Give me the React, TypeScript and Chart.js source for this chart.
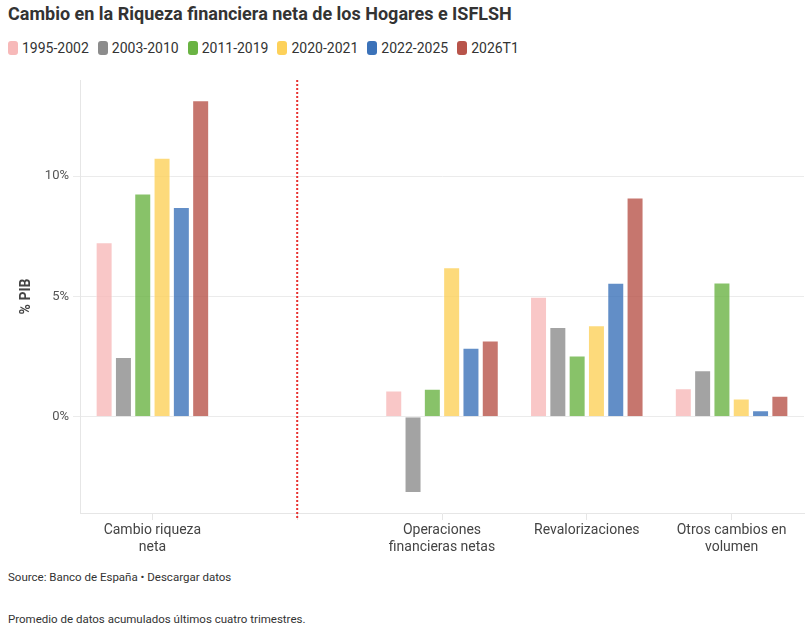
import React, { useEffect, useRef } from "react";
import { Chart, registerables } from "chart.js";

Chart.register(...registerables);

const TITLE = "Cambio en la Riqueza financiera neta de los Hogares e ISFLSH";
const SOURCE = "Source: Banco de España • Descargar datos";
const NOTE = "Promedio de datos acumulados últimos cuatro trimestres.";
const Y_TITLE = "% PIB";

const categories: (string | string[])[] = [
  ["Cambio riqueza", "neta"],
  "",
  ["Operaciones", "financieras netas"],
  "Revalorizaciones",
  ["Otros cambios en", "volumen"],
];

const seriesNames = ["1995-2002", "2003-2010", "2011-2019", "2020-2021", "2022-2025", "2026T1"];
const seriesColors = ["#f7b9b9", "#8c8c8c", "#6ab343", "#fdd15a", "#3b72b9", "#b8544a"];

const s1995_2002 = [7.26, null, 1.09, 4.99, 1.19];
const s2003_2010 = [2.49, null, -3.17, 3.73, 1.93];
const s2011_2019 = [9.28, null, 1.16, 2.55, 5.58];
const s2020_2021 = [10.77, null, 6.22, 3.81, 0.76];
const s2022_2025 = [8.72, null, 2.87, 5.57, 0.27];
const s2026T1 = [13.16, null, 3.17, 9.12, 0.87];

const seriesValues = [s1995_2002, s2003_2010, s2011_2019, s2020_2021, s2022_2025, s2026T1];

const yMin = -4;
const yMax = 14;
const yTicks = [0, 5, 10];
const dividerIndex = 1;

function hexToRgba(hex: string, a: number) {
  const n = parseInt(hex.slice(1), 16);
  return `rgba(${(n >> 16) & 255},${(n >> 8) & 255},${n & 255},${a})`;
}

const FONT = "Roboto, 'Noto Sans', sans-serif";

const dividerPlugin = {
  id: "divider",
  afterDatasetsDraw(chart: any) {
    const { ctx, chartArea, scales } = chart;
    const x = scales.x.getPixelForValue(dividerIndex);
    ctx.save();
    ctx.strokeStyle = "#e8312f";
    ctx.lineWidth = 2;
    ctx.setLineDash([2, 2]);
    ctx.beginPath();
    ctx.moveTo(x, chartArea.top);
    ctx.lineTo(x, chartArea.bottom + 7);
    ctx.stroke();
    ctx.restore();
  },
};

export default function App() {
  const ref = useRef<HTMLCanvasElement | null>(null);

  useEffect(() => {
    document.body.style.margin = "0";
    const canvas = ref.current;
    if (!canvas) return;
    const chart = new Chart(canvas, {
      type: "bar",
      data: {
        labels: categories as any,
        datasets: seriesNames.map((name, i) => ({
          label: name,
          data: seriesValues[i] as any,
          backgroundColor: hexToRgba(seriesColors[i], 0.8),
          borderColor: "rgba(255,255,255,0.55)",
          borderWidth: 1,
          categoryPercentage: 0.8,
          barPercentage: 0.88,
        })),
      },
      options: {
        responsive: false,
        animation: false,
        maintainAspectRatio: false,
        layout: { padding: { top: 18, right: 2, left: 0, bottom: 0 } },
        plugins: {
          legend: { display: false },
          title: { display: false },
          tooltip: { enabled: false },
        },
        scales: {
          x: {
            grid: {
              offset: false,
              drawOnChartArea: false,
              drawTicks: true,
              tickLength: 7,
              color: "#e6e6e6",
            },
            border: { display: true, color: "#e6e6e6" },
            ticks: {
              font: { family: FONT, size: 14, lineHeight: 1.2 },
              color: "#444",
              padding: 2,
              maxRotation: 0,
              autoSkip: false,
            },
            afterFit(scale: any) {
              scale.height = 49;
            },
          },
          y: {
            min: yMin,
            max: yMax,
            afterBuildTicks(axis: any) {
              axis.ticks = yTicks.map((v) => ({ value: v }));
            },
            afterFit(scale: any) {
              scale.width = 80;
            },
            grid: {
              color: "#ebebeb",
              drawTicks: true,
              tickLength: 7,
            },
            border: { display: true, color: "#e6e6e6" },
            ticks: {
              font: { family: FONT, size: 13 },
              color: "#555",
              padding: 4,
              callback: (v: any) => `${v}%`,
            },
            title: {
              display: true,
              text: Y_TITLE,
              font: { family: FONT, size: 14, weight: "bold" },
              color: "#444",
              padding: { top: 18, bottom: 0 },
            },
          },
        },
      },
      plugins: [dividerPlugin],
    });
    return () => chart.destroy();
  }, []);

  return (
    <div style={{ position: "relative", width: 806, height: 630, fontFamily: FONT, color: "#333" }}>
      <div
        style={{
          position: "absolute",
          left: 8,
          top: 3,
          fontSize: 18,
          fontWeight: 700,
          whiteSpace: "nowrap",
          color: "#333",
        }}
      >
        {TITLE}
      </div>
      <div
        style={{
          position: "absolute",
          left: 8,
          top: 40,
          display: "flex",
          alignItems: "center",
          fontSize: 14,
          whiteSpace: "nowrap",
        }}
      >
        {seriesNames.map((n, i) => (
          <div key={n} style={{ display: "flex", alignItems: "center", marginRight: 9 }}>
            <span
              style={{
                display: "inline-block",
                width: 10,
                height: 14,
                borderRadius: 3,
                background: seriesColors[i],
                marginRight: 4,
              }}
            />
            <span>{n}</span>
          </div>
        ))}
      </div>
      <canvas
        ref={ref}
        width={806}
        height={500}
        style={{ position: "absolute", left: 0, top: 62, width: 806, height: 500 }}
      />
      <div style={{ position: "absolute", left: 8, top: 570, fontSize: 11.5, whiteSpace: "nowrap" }}>{SOURCE}</div>
      <div style={{ position: "absolute", left: 8, top: 612, fontSize: 11.5, whiteSpace: "nowrap" }}>{NOTE}</div>
    </div>
  );
}
